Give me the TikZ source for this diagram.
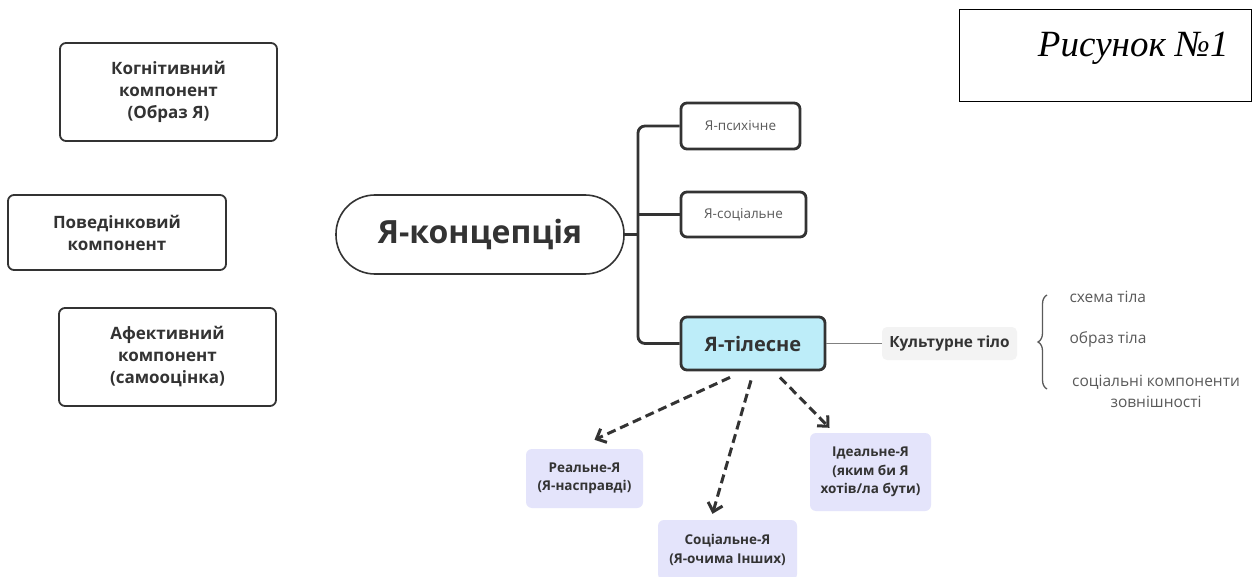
\documentclass[tikz,border=0pt]{standalone}
\usepackage{fontspec}
\setmainfont{Open Sans}
\newfontfamily\figfont{Liberation Serif}
\usetikzlibrary{arrows.meta,decorations.pathreplacing}

\definecolor{ink}{HTML}{333333}
\definecolor{softgray}{HTML}{5a5a5a}
\definecolor{bodyblue}{HTML}{BDEDF9}
\definecolor{lavender}{HTML}{E4E4FB}
\definecolor{paleback}{HTML}{F3F3F3}

\begin{document}
\begin{tikzpicture}[x=1pt, y=-1pt,
    component/.style={draw=ink, line width=1.8pt, rounded corners=6pt, align=center,
      text=ink, font=\bfseries\fontsize{17}{22}\selectfont},
    branchbox/.style={draw=ink, line width=2.8pt, rounded corners=6pt,
      text=softgray, font=\fontsize{13.5}{16}\selectfont},
    subself/.style={fill=lavender, rounded corners=6pt, align=center,
      text=ink, font=\bfseries\fontsize{13.5}{18.5}\selectfont},
    item/.style={text=softgray, font=\fontsize{15.5}{21}\selectfont},
    branch/.style={draw=ink, line width=2.8pt, rounded corners=7pt},
    dasharrow/.style={draw=ink, line width=3pt, dash pattern=on 9pt off 5pt,
      -{Straight Barb[length=8pt, width=15pt, line width=3pt]}}]
  \clip (0,0) rectangle (1252,577);
  \fill[white] (0,0) rectangle (1252,577);

  % three components
  \node[component, minimum width=217pt, minimum height=98pt] (cog) at (168.5,92)
    {Когнітивний\\компонент\\(Образ Я)};
  \node[component, minimum width=218pt, minimum height=75pt] (beh) at (117,232.5)
    {Поведінковий\\компонент};
  \node[component, minimum width=217pt, minimum height=98pt] (aff) at (167.5,357)
    {Афективний\\компонент\\(самооцінка)};

  % central concept
  \node[draw=ink, line width=1.6pt, rounded corners=39pt, minimum width=288pt,
    minimum height=79pt, text=ink, font=\bfseries\fontsize{32}{36}\selectfont]
    (concept) at (480,234.5) {Я-концепція};

  \node[branchbox, minimum width=119pt, minimum height=46pt] (psy) at (740.5,126) {Я-психічне};
  \node[branchbox, minimum width=125pt, minimum height=45pt] (soc) at (743.5,214.5) {Я-соціальне};
  \node[branchbox, fill=bodyblue, text=ink, minimum width=144pt, minimum height=53pt,
    font=\bfseries\fontsize{20}{22}\selectfont] (body) at (753,343.5) {Я-тілесне};

  \coordinate (fork) at (638,234.5);
  \draw[branch] (concept.east) -- (fork);
  \draw[branch] (psy.west) -| (fork) |- (body.west);
  \draw[branch] (soc.west) -- (fork |- soc.west);

  % cultural body
  \node[fill=paleback, rounded corners=5pt, minimum width=135pt, minimum height=33pt,
    text=ink, font=\bfseries\fontsize{15.4}{17}\selectfont] (culture) at (949.5,343.5) {Культурне тіло};
  \draw[gray, line width=1pt] (body.east) -- (culture.west);

  \draw[softgray, line width=1.3pt, decorate, decoration={brace, amplitude=9pt}]
    (1047,389) -- (1047,295);
  \node[item, anchor=west] (scheme) at (1066,297) {схема тіла};
  \node[item, anchor=west] (image) at (1066,339) {образ тіла};
  \node[item, align=center] (looks) at (1156,391.5) {соціальні компоненти\\зовнішності};

  % three selves
  \node[subself, minimum width=117pt, minimum height=59pt] (real) at (584.5,478.5)
    {Реальне-Я\\(Я-насправді)};
  \node[subself, minimum width=139pt, minimum height=60pt] (others) at (727.5,550)
    {Соціальне-Я\\(Я-очима Інших)};
  \node[subself, minimum width=121pt, minimum height=78pt] (ideal) at (870.5,472)
    {Ідеальне-Я\\(яким би Я\\хотів/ла бути)};

  \draw[dasharrow] ([xshift=-23pt, yshift=-6pt]body.south) -- ([xshift=10pt, yshift=9pt]real.north);
  \draw[dasharrow] ([xshift=-2pt, yshift=-9pt]body.south) -- ([xshift=-15pt, yshift=6pt]others.north);
  \draw[dasharrow] ([xshift=27pt, yshift=-6pt]body.south) -- ([xshift=-41pt, yshift=5pt]ideal.north);

  % figure caption
  \node[draw=black, line width=1pt, minimum width=292pt, minimum height=92pt] (figbox) at (1105,56) {};
  \node[anchor=east, font=\figfont\itshape\fontsize{37}{40}\selectfont] (figlabel) at (1232,48) {Рисунок №1};
\end{tikzpicture}
\end{document}
